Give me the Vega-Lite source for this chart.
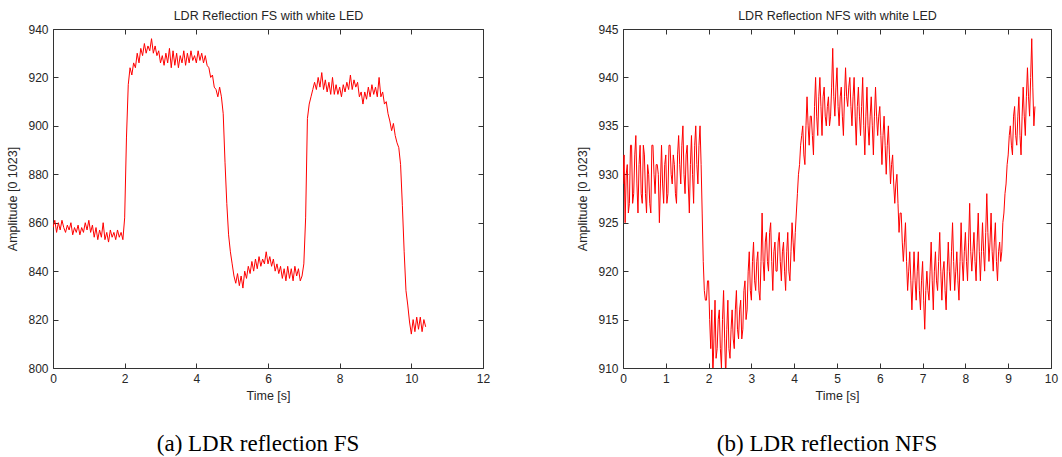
{
  "$schema": "https://vega.github.io/schema/vega-lite/v6.json",
  "padding": {"left": 6, "top": 9, "right": 2, "bottom": 2},
  "autosize": {"type": "pad"},
  "background": "white",
  "bounds": "flush",
  "spacing": 140,
  "config": {
    "view": {"stroke": "#333333", "strokeWidth": 1},
    "axis": {
      "domain": false,
      "grid": false,
      "tickSize": -5,
      "tickColor": "#333333",
      "labelPadding": 10,
      "labelFont": "Liberation Sans",
      "labelFontSize": 12,
      "labelColor": "#262626",
      "titleFont": "Liberation Sans",
      "titleFontSize": 12.5,
      "titleFontWeight": "normal",
      "titleColor": "#262626",
      "labelFlush": false,
      "labelOverlap": false
    },
    "title": {"font": "Liberation Serif", "fontSize": 23, "fontWeight": "normal", "color": "#000000"}
  },
  "datasets": {
    "fs": [
      {"t":0.00,"v":858},{"t":0.05,"v":861},{"t":0.10,"v":856},{"t":0.15,"v":860},{"t":0.20,"v":857},{"t":0.25,"v":861},{"t":0.30,"v":858},{"t":0.35,"v":856},{"t":0.40,"v":859},{"t":0.45,"v":857},
      {"t":0.50,"v":860},{"t":0.55,"v":855},{"t":0.60,"v":858},{"t":0.65,"v":856},{"t":0.70,"v":859},{"t":0.75,"v":855},{"t":0.80,"v":858},{"t":0.85,"v":856},{"t":0.90,"v":860},{"t":0.95,"v":857},
      {"t":1.00,"v":861},{"t":1.05,"v":856},{"t":1.10,"v":859},{"t":1.15,"v":854},{"t":1.20,"v":858},{"t":1.25,"v":853},{"t":1.30,"v":857},{"t":1.35,"v":854},{"t":1.40,"v":860},{"t":1.45,"v":853},
      {"t":1.50,"v":856},{"t":1.55,"v":852},{"t":1.60,"v":857},{"t":1.65,"v":854},{"t":1.70,"v":856},{"t":1.75,"v":853},{"t":1.80,"v":857},{"t":1.85,"v":854},{"t":1.90,"v":856},{"t":1.95,"v":853},
      {"t":2.00,"v":862},{"t":2.05,"v":895},{"t":2.10,"v":917},{"t":2.15,"v":924},{"t":2.20,"v":921},{"t":2.25,"v":926},{"t":2.30,"v":924},{"t":2.35,"v":930},{"t":2.40,"v":926},{"t":2.45,"v":932},
      {"t":2.50,"v":929},{"t":2.55,"v":934},{"t":2.60,"v":930},{"t":2.65,"v":933},{"t":2.70,"v":931},{"t":2.75,"v":936},{"t":2.80,"v":930},{"t":2.85,"v":933},{"t":2.90,"v":929},{"t":2.95,"v":931},
      {"t":3.00,"v":926},{"t":3.05,"v":929},{"t":3.10,"v":925},{"t":3.15,"v":930},{"t":3.20,"v":926},{"t":3.25,"v":932},{"t":3.30,"v":924},{"t":3.35,"v":931},{"t":3.40,"v":925},{"t":3.45,"v":930},
      {"t":3.50,"v":924},{"t":3.55,"v":929},{"t":3.60,"v":926},{"t":3.65,"v":931},{"t":3.70,"v":925},{"t":3.75,"v":930},{"t":3.80,"v":926},{"t":3.85,"v":931},{"t":3.90,"v":927},{"t":3.95,"v":929},
      {"t":4.00,"v":926},{"t":4.05,"v":931},{"t":4.10,"v":927},{"t":4.15,"v":930},{"t":4.20,"v":926},{"t":4.25,"v":929},{"t":4.30,"v":925},{"t":4.35,"v":924},{"t":4.40,"v":920},{"t":4.45,"v":921},
      {"t":4.50,"v":916},{"t":4.55,"v":915},{"t":4.60,"v":912},{"t":4.65,"v":916},{"t":4.70,"v":912},{"t":4.75,"v":905},{"t":4.80,"v":885},{"t":4.85,"v":868},{"t":4.90,"v":855},{"t":4.95,"v":848},
      {"t":5.00,"v":843},{"t":5.05,"v":838},{"t":5.10,"v":835},{"t":5.15,"v":839},{"t":5.20,"v":834},{"t":5.25,"v":838},{"t":5.30,"v":833},{"t":5.35,"v":840},{"t":5.40,"v":837},{"t":5.45,"v":842},
      {"t":5.50,"v":839},{"t":5.55,"v":844},{"t":5.60,"v":840},{"t":5.65,"v":845},{"t":5.70,"v":841},{"t":5.75,"v":846},{"t":5.80,"v":842},{"t":5.85,"v":845},{"t":5.90,"v":843},{"t":5.95,"v":848},
      {"t":6.00,"v":843},{"t":6.05,"v":846},{"t":6.10,"v":842},{"t":6.15,"v":845},{"t":6.20,"v":840},{"t":6.25,"v":843},{"t":6.30,"v":839},{"t":6.35,"v":842},{"t":6.40,"v":837},{"t":6.45,"v":841},
      {"t":6.50,"v":836},{"t":6.55,"v":842},{"t":6.60,"v":837},{"t":6.65,"v":841},{"t":6.70,"v":836},{"t":6.75,"v":842},{"t":6.80,"v":838},{"t":6.85,"v":841},{"t":6.90,"v":836},{"t":6.95,"v":838},
      {"t":7.00,"v":843},{"t":7.05,"v":862},{"t":7.10,"v":903},{"t":7.15,"v":909},{"t":7.20,"v":912},{"t":7.25,"v":915},{"t":7.30,"v":918},{"t":7.35,"v":915},{"t":7.40,"v":920},{"t":7.45,"v":916},
      {"t":7.50,"v":922},{"t":7.55,"v":915},{"t":7.60,"v":919},{"t":7.65,"v":914},{"t":7.70,"v":918},{"t":7.75,"v":913},{"t":7.80,"v":920},{"t":7.85,"v":913},{"t":7.90,"v":917},{"t":7.95,"v":913},
      {"t":8.00,"v":916},{"t":8.05,"v":912},{"t":8.10,"v":917},{"t":8.15,"v":914},{"t":8.20,"v":918},{"t":8.25,"v":915},{"t":8.30,"v":921},{"t":8.35,"v":915},{"t":8.40,"v":919},{"t":8.45,"v":916},
      {"t":8.50,"v":918},{"t":8.55,"v":912},{"t":8.60,"v":914},{"t":8.65,"v":909},{"t":8.70,"v":914},{"t":8.75,"v":911},{"t":8.80,"v":916},{"t":8.85,"v":912},{"t":8.90,"v":917},{"t":8.95,"v":913},
      {"t":9.00,"v":916},{"t":9.05,"v":912},{"t":9.10,"v":920},{"t":9.15,"v":912},{"t":9.20,"v":914},{"t":9.25,"v":909},{"t":9.30,"v":910},{"t":9.35,"v":905},{"t":9.40,"v":902},{"t":9.45,"v":898},
      {"t":9.50,"v":901},{"t":9.55,"v":896},{"t":9.60,"v":893},{"t":9.65,"v":891},{"t":9.70,"v":884},{"t":9.75,"v":867},{"t":9.80,"v":848},{"t":9.85,"v":832},{"t":9.90,"v":826},{"t":9.95,"v":819},
      {"t":10.00,"v":814},{"t":10.05,"v":820},{"t":10.10,"v":815},{"t":10.15,"v":821},{"t":10.20,"v":816},{"t":10.25,"v":821},{"t":10.30,"v":815},{"t":10.35,"v":820},{"t":10.40,"v":817}
    ],
    "nfs": [
      {"t":0.000,"v":929},{"t":0.025,"v":932},{"t":0.050,"v":925},{"t":0.075,"v":930},{"t":0.100,"v":931},{"t":0.125,"v":926},{"t":0.150,"v":927},{"t":0.175,"v":933},{"t":0.200,"v":933},{"t":0.225,"v":927},
      {"t":0.250,"v":928},{"t":0.275,"v":932},{"t":0.300,"v":934},{"t":0.325,"v":929},{"t":0.350,"v":926},{"t":0.375,"v":931},{"t":0.400,"v":933},{"t":0.425,"v":928},{"t":0.450,"v":927},{"t":0.475,"v":933},
      {"t":0.500,"v":932},{"t":0.525,"v":928},{"t":0.550,"v":926},{"t":0.575,"v":931},{"t":0.600,"v":930},{"t":0.625,"v":927},{"t":0.650,"v":926},{"t":0.675,"v":933},{"t":0.700,"v":933},{"t":0.725,"v":930},
      {"t":0.750,"v":928},{"t":0.775,"v":931},{"t":0.800,"v":931},{"t":0.825,"v":930},{"t":0.850,"v":925},{"t":0.875,"v":929},{"t":0.900,"v":933},{"t":0.925,"v":929},{"t":0.950,"v":927},{"t":0.975,"v":931},
      {"t":1.000,"v":932},{"t":1.025,"v":927},{"t":1.050,"v":928},{"t":1.075,"v":933},{"t":1.100,"v":933},{"t":1.125,"v":930},{"t":1.150,"v":929},{"t":1.175,"v":932},{"t":1.200,"v":931},{"t":1.225,"v":928},
      {"t":1.250,"v":927},{"t":1.275,"v":932},{"t":1.300,"v":934},{"t":1.325,"v":931},{"t":1.350,"v":929},{"t":1.375,"v":933},{"t":1.400,"v":935},{"t":1.425,"v":930},{"t":1.450,"v":928},{"t":1.475,"v":932},
      {"t":1.500,"v":933},{"t":1.525,"v":929},{"t":1.550,"v":926},{"t":1.575,"v":931},{"t":1.600,"v":934},{"t":1.625,"v":930},{"t":1.650,"v":927},{"t":1.675,"v":933},{"t":1.700,"v":935},{"t":1.725,"v":931},
      {"t":1.750,"v":929},{"t":1.775,"v":933},{"t":1.800,"v":935},{"t":1.825,"v":931},{"t":1.850,"v":926},{"t":1.875,"v":921},{"t":1.900,"v":918},{"t":1.925,"v":917},{"t":1.950,"v":917},{"t":1.975,"v":919},
      {"t":2.000,"v":919},{"t":2.025,"v":915},{"t":2.050,"v":912},{"t":2.075,"v":916},{"t":2.100,"v":909},{"t":2.125,"v":913},{"t":2.150,"v":917},{"t":2.175,"v":911},{"t":2.200,"v":912},{"t":2.225,"v":915},
      {"t":2.250,"v":916},{"t":2.275,"v":912},{"t":2.300,"v":910},{"t":2.325,"v":915},{"t":2.350,"v":918},{"t":2.375,"v":913},{"t":2.400,"v":909},{"t":2.425,"v":914},{"t":2.450,"v":917},{"t":2.475,"v":912},
      {"t":2.500,"v":911},{"t":2.525,"v":914},{"t":2.550,"v":916},{"t":2.575,"v":913},{"t":2.600,"v":912},{"t":2.625,"v":916},{"t":2.650,"v":918},{"t":2.675,"v":914},{"t":2.700,"v":913},{"t":2.725,"v":916},
      {"t":2.750,"v":917},{"t":2.775,"v":913},{"t":2.800,"v":914},{"t":2.825,"v":918},{"t":2.850,"v":919},{"t":2.875,"v":915},{"t":2.900,"v":916},{"t":2.925,"v":920},{"t":2.950,"v":922},{"t":2.975,"v":918},
      {"t":3.000,"v":917},{"t":3.025,"v":921},{"t":3.050,"v":923},{"t":3.075,"v":919},{"t":3.100,"v":918},{"t":3.125,"v":921},{"t":3.150,"v":922},{"t":3.175,"v":918},{"t":3.200,"v":917},{"t":3.225,"v":921},
      {"t":3.250,"v":926},{"t":3.275,"v":921},{"t":3.300,"v":919},{"t":3.325,"v":923},{"t":3.350,"v":924},{"t":3.375,"v":921},{"t":3.400,"v":920},{"t":3.425,"v":924},{"t":3.450,"v":925},{"t":3.475,"v":921},
      {"t":3.500,"v":918},{"t":3.525,"v":922},{"t":3.550,"v":923},{"t":3.575,"v":920},{"t":3.600,"v":920},{"t":3.625,"v":923},{"t":3.650,"v":924},{"t":3.675,"v":921},{"t":3.700,"v":919},{"t":3.725,"v":922},
      {"t":3.750,"v":923},{"t":3.775,"v":920},{"t":3.800,"v":918},{"t":3.825,"v":922},{"t":3.850,"v":924},{"t":3.875,"v":920},{"t":3.900,"v":919},{"t":3.925,"v":922},{"t":3.950,"v":925},{"t":3.975,"v":923},
      {"t":4.000,"v":921},{"t":4.025,"v":924},{"t":4.050,"v":926},{"t":4.075,"v":928},{"t":4.100,"v":930},{"t":4.125,"v":931},{"t":4.150,"v":933},{"t":4.175,"v":934},{"t":4.200,"v":935},{"t":4.225,"v":932},
      {"t":4.250,"v":931},{"t":4.275,"v":935},{"t":4.300,"v":938},{"t":4.325,"v":935},{"t":4.350,"v":933},{"t":4.375,"v":936},{"t":4.400,"v":936},{"t":4.425,"v":934},{"t":4.450,"v":932},{"t":4.475,"v":937},
      {"t":4.500,"v":940},{"t":4.525,"v":936},{"t":4.550,"v":934},{"t":4.575,"v":938},{"t":4.600,"v":940},{"t":4.625,"v":937},{"t":4.650,"v":934},{"t":4.675,"v":938},{"t":4.700,"v":939},{"t":4.725,"v":936},
      {"t":4.750,"v":935},{"t":4.775,"v":937},{"t":4.800,"v":938},{"t":4.825,"v":935},{"t":4.850,"v":936},{"t":4.875,"v":939},{"t":4.900,"v":943},{"t":4.925,"v":938},{"t":4.950,"v":936},{"t":4.975,"v":939},
      {"t":5.000,"v":941},{"t":5.025,"v":937},{"t":5.050,"v":935},{"t":5.075,"v":938},{"t":5.100,"v":939},{"t":5.125,"v":936},{"t":5.150,"v":934},{"t":5.175,"v":938},{"t":5.200,"v":941},{"t":5.225,"v":938},
      {"t":5.250,"v":937},{"t":5.275,"v":939},{"t":5.300,"v":940},{"t":5.325,"v":937},{"t":5.350,"v":935},{"t":5.375,"v":938},{"t":5.400,"v":940},{"t":5.425,"v":936},{"t":5.450,"v":933},{"t":5.475,"v":937},
      {"t":5.500,"v":939},{"t":5.525,"v":936},{"t":5.550,"v":934},{"t":5.575,"v":937},{"t":5.600,"v":940},{"t":5.625,"v":935},{"t":5.650,"v":932},{"t":5.675,"v":936},{"t":5.700,"v":939},{"t":5.725,"v":935},
      {"t":5.750,"v":933},{"t":5.775,"v":936},{"t":5.800,"v":938},{"t":5.825,"v":935},{"t":5.850,"v":932},{"t":5.875,"v":936},{"t":5.900,"v":939},{"t":5.925,"v":936},{"t":5.950,"v":934},{"t":5.975,"v":936},
      {"t":6.000,"v":937},{"t":6.025,"v":934},{"t":6.050,"v":931},{"t":6.075,"v":934},{"t":6.100,"v":936},{"t":6.125,"v":933},{"t":6.150,"v":930},{"t":6.175,"v":933},{"t":6.200,"v":935},{"t":6.225,"v":932},
      {"t":6.250,"v":929},{"t":6.275,"v":931},{"t":6.300,"v":932},{"t":6.325,"v":929},{"t":6.350,"v":927},{"t":6.375,"v":929},{"t":6.400,"v":930},{"t":6.425,"v":927},{"t":6.450,"v":924},{"t":6.475,"v":926},
      {"t":6.500,"v":926},{"t":6.525,"v":923},{"t":6.550,"v":921},{"t":6.575,"v":923},{"t":6.600,"v":925},{"t":6.625,"v":921},{"t":6.650,"v":918},{"t":6.675,"v":920},{"t":6.700,"v":922},{"t":6.725,"v":919},
      {"t":6.750,"v":916},{"t":6.775,"v":919},{"t":6.800,"v":922},{"t":6.825,"v":919},{"t":6.850,"v":917},{"t":6.875,"v":920},{"t":6.900,"v":922},{"t":6.925,"v":918},{"t":6.950,"v":916},{"t":6.975,"v":919},
      {"t":7.000,"v":921},{"t":7.025,"v":917},{"t":7.050,"v":914},{"t":7.075,"v":918},{"t":7.100,"v":920},{"t":7.125,"v":918},{"t":7.150,"v":917},{"t":7.175,"v":920},{"t":7.200,"v":923},{"t":7.225,"v":919},
      {"t":7.250,"v":916},{"t":7.275,"v":920},{"t":7.300,"v":922},{"t":7.325,"v":919},{"t":7.350,"v":918},{"t":7.375,"v":921},{"t":7.400,"v":924},{"t":7.425,"v":920},{"t":7.450,"v":917},{"t":7.475,"v":920},
      {"t":7.500,"v":921},{"t":7.525,"v":918},{"t":7.550,"v":916},{"t":7.575,"v":920},{"t":7.600,"v":923},{"t":7.625,"v":920},{"t":7.650,"v":918},{"t":7.675,"v":922},{"t":7.700,"v":925},{"t":7.725,"v":921},
      {"t":7.750,"v":918},{"t":7.775,"v":920},{"t":7.800,"v":922},{"t":7.825,"v":919},{"t":7.850,"v":917},{"t":7.875,"v":921},{"t":7.900,"v":925},{"t":7.925,"v":921},{"t":7.950,"v":919},{"t":7.975,"v":922},
      {"t":8.000,"v":924},{"t":8.025,"v":921},{"t":8.050,"v":919},{"t":8.075,"v":923},{"t":8.100,"v":927},{"t":8.125,"v":922},{"t":8.150,"v":920},{"t":8.175,"v":922},{"t":8.200,"v":924},{"t":8.225,"v":921},
      {"t":8.250,"v":919},{"t":8.275,"v":923},{"t":8.300,"v":926},{"t":8.325,"v":922},{"t":8.350,"v":919},{"t":8.375,"v":922},{"t":8.400,"v":925},{"t":8.425,"v":922},{"t":8.450,"v":920},{"t":8.475,"v":924},
      {"t":8.500,"v":928},{"t":8.525,"v":924},{"t":8.550,"v":921},{"t":8.575,"v":923},{"t":8.600,"v":926},{"t":8.625,"v":922},{"t":8.650,"v":920},{"t":8.675,"v":923},{"t":8.700,"v":925},{"t":8.725,"v":921},
      {"t":8.750,"v":919},{"t":8.775,"v":922},{"t":8.800,"v":923},{"t":8.825,"v":921},{"t":8.850,"v":922},{"t":8.875,"v":925},{"t":8.900,"v":926},{"t":8.925,"v":928},{"t":8.950,"v":929},{"t":8.975,"v":931},
      {"t":9.000,"v":932},{"t":9.025,"v":934},{"t":9.050,"v":935},{"t":9.075,"v":933},{"t":9.100,"v":932},{"t":9.125,"v":936},{"t":9.150,"v":937},{"t":9.175,"v":934},{"t":9.200,"v":933},{"t":9.225,"v":936},
      {"t":9.250,"v":938},{"t":9.275,"v":934},{"t":9.300,"v":932},{"t":9.325,"v":936},{"t":9.350,"v":939},{"t":9.375,"v":936},{"t":9.400,"v":934},{"t":9.425,"v":938},{"t":9.450,"v":941},{"t":9.475,"v":938},
      {"t":9.500,"v":936},{"t":9.525,"v":940},{"t":9.550,"v":944},{"t":9.575,"v":939},{"t":9.600,"v":935},{"t":9.625,"v":937}
    ]
  },
  "hconcat": [
    {
      "width": 430,
      "height": 339,
      "title": {"text": "(a) LDR reflection FS", "orient": "bottom", "offset": 31, "dx": -10},
      "data": {"name": "fs"},
      "layer": [
        {
          "mark": {"type": "line", "color": "#ff0000", "strokeWidth": 1, "clip": true},
          "encoding": {
            "x": {"field": "t", "type": "quantitative", "scale": {"domain": [0, 12], "nice": false},
                  "axis": {"orient": "bottom", "title": "Time [s]", "values": [0, 2, 4, 6, 8, 10, 12], "titlePadding": 5}},
            "y": {"field": "v", "type": "quantitative", "scale": {"domain": [800, 940], "nice": false, "zero": false},
                  "axis": {"orient": "left", "title": "Amplitude [0 1023]", "values": [800, 820, 840, 860, 880, 900, 920, 940], "titlePadding": 8}}
          }
        },
        {
          "mark": {"type": "line", "strokeOpacity": 0},
          "encoding": {
            "x": {"field": "t", "type": "quantitative",
                  "axis": {"orient": "top", "labels": false, "title": "LDR Reflection FS with white LED", "values": [0, 2, 4, 6, 8, 10, 12], "titlePadding": 6}},
            "y": {"field": "v", "type": "quantitative",
                  "axis": {"orient": "right", "labels": false, "title": null, "values": [800, 820, 840, 860, 880, 900, 920, 940]}}
          }
        }
      ],
      "resolve": {"axis": {"x": "independent", "y": "independent"}}
    },
    {
      "width": 428,
      "height": 339,
      "title": {"text": "(b) LDR reflection NFS", "orient": "bottom", "offset": 31, "dx": -10},
      "data": {"name": "nfs"},
      "layer": [
        {
          "mark": {"type": "line", "color": "#ff0000", "strokeWidth": 1, "clip": true},
          "encoding": {
            "x": {"field": "t", "type": "quantitative", "scale": {"domain": [0, 10], "nice": false},
                  "axis": {"orient": "bottom", "title": "Time [s]", "values": [0, 1, 2, 3, 4, 5, 6, 7, 8, 9, 10], "titlePadding": 5}},
            "y": {"field": "v", "type": "quantitative", "scale": {"domain": [910, 945], "nice": false, "zero": false},
                  "axis": {"orient": "left", "title": "Amplitude [0 1023]", "values": [910, 915, 920, 925, 930, 935, 940, 945], "titlePadding": 8}}
          }
        },
        {
          "mark": {"type": "line", "strokeOpacity": 0},
          "encoding": {
            "x": {"field": "t", "type": "quantitative",
                  "axis": {"orient": "top", "labels": false, "title": "LDR Reflection NFS with white LED", "values": [0, 1, 2, 3, 4, 5, 6, 7, 8, 9, 10], "titlePadding": 6}},
            "y": {"field": "v", "type": "quantitative",
                  "axis": {"orient": "right", "labels": false, "title": null, "values": [910, 915, 920, 925, 930, 935, 940, 945]}}
          }
        }
      ],
      "resolve": {"axis": {"x": "independent", "y": "independent"}}
    }
  ]
}
